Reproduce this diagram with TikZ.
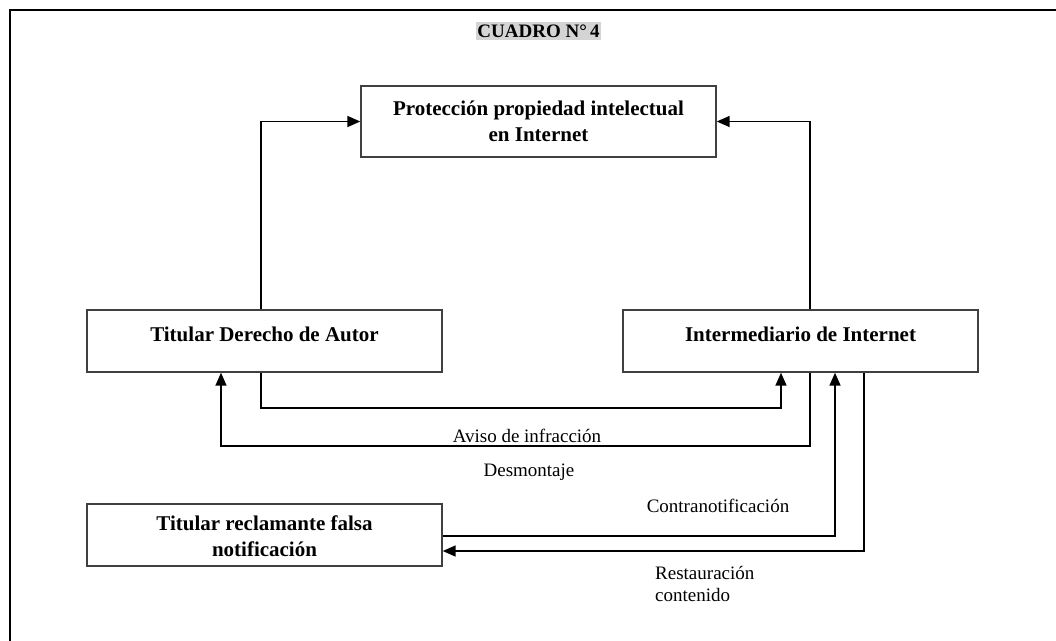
\documentclass[tikz,border=0pt]{standalone}
\usepackage{fontspec}
\setmainfont{Liberation Serif}
\usetikzlibrary{arrows.meta,calc}
\newcommand{\uptext}[1]{\raisebox{7pt}[\height][\depth]{#1}}
\newcommand{\twolines}[2]{\raisebox{-3pt}[\height][\depth]{\begin{tabular}{@{}c@{}}#1\\#2\end{tabular}}}
\begin{document}
\begin{tikzpicture}[x=1pt,y=-1pt,
  box/.style={draw=black!75,line width=1.4pt,minimum width=355pt,inner sep=0pt,
    font=\bfseries\fontsize{21}{26}\selectfont,align=center},
  link/.style={line width=1.6pt,-{Triangle[length=13pt,width=11pt]}},
  lbl/.style={font=\fontsize{19}{22}\selectfont,inner sep=0pt}]
\useasboundingbox (0,0) rectangle (1056,640);
\fill[white] (0,0) rectangle (1056,640);
% outer frame
\draw[line width=2.6pt] (10,641) -- (10,10) -- (1057,10);
% title
\node[fill=black!17,inner xsep=1pt,inner ysep=3pt,font=\bfseries\fontsize{19}{22}\selectfont] (title) at (538.5,31) {CUADRO N\textdegree\,4};
% boxes
\node[box,minimum height=71pt] (top) at (538.5,121.5) {Protección propiedad intelectual\\en Internet};
\node[box,minimum height=62pt] (lbox) at (264.5,341) {\uptext{Titular Derecho de Autor}};
\node[box,minimum height=62pt] (rbox) at (800.5,341) {\uptext{Intermediario de Internet}};
\node[box,minimum height=62pt] (bbox) at (264.5,535) {\twolines{Titular reclamante falsa}{notificación}};
% connectors to the top box
\draw[link] ($(lbox.north)+(-3.5,0)$) |- (top.west);
\draw[link] ($(rbox.north)+(9.5,0)$) |- (top.east);
% notice and takedown
\draw[link] ($(lbox.south)+(-3.5,0)$) -- ++(0,35) -| ($(rbox.south)+(-19.5,0)$);
\draw[link] ($(rbox.south)+(9.5,0)$) -- ++(0,73) -| ($(lbox.south)+(-43.5,0)$);
% counter-notice and restoration
\draw[link] ($(bbox.east)+(0,1)$) -| ($(rbox.south)+(34.5,0)$);
\draw[link] ($(rbox.south)+(63.5,0)$) |- ($(bbox.east)+(0,16)$);
% labels
\node[lbl] (aviso) at (527,436) {Aviso de infracción};
\node[lbl] (desm) at (529,472) {Desmontaje};
\node[lbl] (contra) at (718,506) {Contranotificación};
\node[lbl,align=left,anchor=north west] (rest) at (655,566) {Restauración\\contenido};
\end{tikzpicture}
\end{document}
